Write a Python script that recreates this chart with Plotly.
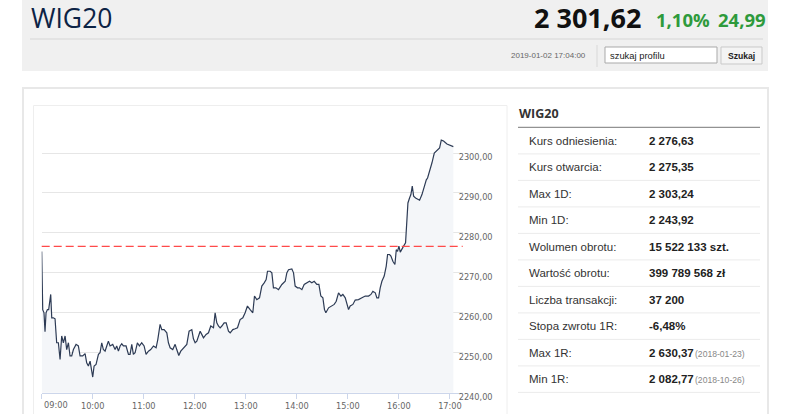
import plotly.graph_objects as go
import pandas as pd

W, H = 786, 414

# intraday WIG20, minutes after 09:00 and index level
minutes = [0, 0.4, 1.2, 2.7, 3.9, 5.1, 6.7, 8.2, 9.0, 10.6, 11.8, 13.7, 15.7, 17.6, 19.6,
           21.6, 23.5, 25.5, 27.5, 29.4, 31.4, 33.3, 35.3, 37.3, 40.4, 43.1, 45.1, 48.2,
           51.0, 52.9, 54.9, 56.9, 60.0, 61.6, 63.9, 66.7, 68.6, 70.6, 72.5, 74.5, 76.5,
           78.4, 80.4, 83.5, 86.3, 88.2, 90.2, 92.2, 94.1, 96.1, 99.2, 102.0, 103.9, 105.9,
           107.8, 109.8, 112.5, 114.9, 117.6, 120.4, 122.7, 125.5, 128.2, 131.4, 134.5,
           136.5, 139.2, 141.2, 143.9, 147.1, 149.0, 151.0, 154.1, 156.9, 158.8, 161.2,
           163.5, 166.7, 170.6, 173.3, 176.5, 178.4, 180.4, 182.4, 186.3, 188.2, 190.2,
           193.3, 196.1, 198.8, 202.0, 203.9, 205.9, 207.8, 209.8, 211.8, 214.5, 216.9,
           219.6, 221.6, 224.7, 227.5, 230.2, 233.3, 236.5, 239.2, 241.9, 245.1, 248.2,
           250.2, 252.9, 256.1, 258.8, 261.6, 263.9, 265.5, 268.6, 270.6, 272.5, 275.3,
           278.4, 282.4, 286.3, 288.2, 290.2, 294.1, 296.1, 298.0, 300.8, 303.1, 305.9,
           308.6, 311.8, 314.9, 317.6, 320.4, 323.5, 325.9, 328.2, 330.6, 332.5, 334.1,
           337.3, 341.2, 343.9, 346.3, 349.0, 351.8, 354.1, 356.9, 358.8, 360.8, 362.7,
           365.9, 368.6, 372.5, 376.5, 380.4, 384.3, 387.1, 389.4, 392.2, 394.1, 396.1,
           398.0, 400.0, 402.7, 405.1, 406.7, 409.0, 410.6, 412.9, 415.3, 416.9, 418.4,
           420.0, 421.6, 423.5, 425.5, 427.8, 429.4, 430.6, 432.5, 434.1, 435.7, 437.3,
           439.6, 442.0, 444.3, 447.1, 449.8, 452.2, 453.7, 456.1, 458.8, 461.6, 464.7,
           467.8, 469.8, 472.5, 476.5, 480.4, 484.0]
levels = [2275.35, 2264.2, 2260.8, 2260.0, 2255.25, 2260.0, 2260.8, 2260.8, 2262.5, 2264.6,
          2258.75, 2258.75, 2258.5, 2252.5, 2252.5, 2248.3, 2254.2, 2252.5, 2254.2, 2250.8,
          2252.5, 2249.2, 2249.2, 2250.8, 2252.1, 2251.7, 2249.2, 2249.2, 2249.8, 2247.5,
          2246.7, 2247.9, 2243.92, 2246.7, 2247.1, 2249.6, 2250.0, 2252.5, 2250.8, 2250.4,
          2251.7, 2252.9, 2251.7, 2252.1, 2250.8, 2251.7, 2250.4, 2251.7, 2252.25, 2251.7,
          2251.7, 2249.6, 2249.6, 2252.1, 2249.6, 2250.0, 2252.5, 2251.7, 2252.5, 2251.7,
          2249.6, 2250.4, 2250.8, 2251.7, 2251.25, 2253.3, 2257.1, 2255.8, 2255.8, 2255.0,
          2252.5, 2251.25, 2250.8, 2252.1, 2250.8, 2249.3, 2250.4, 2251.25, 2252.1, 2255.4,
          2255.8, 2253.5, 2252.5, 2252.9, 2255.4, 2254.6, 2253.75, 2254.6, 2255.0, 2256.7,
          2256.25, 2260.0, 2257.5, 2256.7, 2256.25, 2256.7, 2257.5, 2257.5, 2255.4, 2255.0,
          2255.8, 2256.0, 2256.25, 2258.3, 2258.75, 2260.0, 2261.7, 2260.8, 2260.0, 2264.2,
          2263.3, 2263.75, 2266.7, 2267.5, 2268.3, 2270.4, 2270.4, 2270.0, 2266.25, 2266.25,
          2265.8, 2267.1, 2267.9, 2270.0, 2270.8, 2271.0, 2270.0, 2266.7, 2266.25, 2266.25,
          2265.8, 2267.1, 2267.5, 2267.9, 2267.5, 2267.9, 2267.1, 2267.1, 2264.2, 2263.75,
          2260.8, 2260.0, 2261.25, 2261.7, 2262.1, 2262.9, 2265.0, 2264.2, 2264.6, 2263.75,
          2262.5, 2260.8, 2261.7, 2262.1, 2263.2, 2263.3, 2263.75, 2264.2, 2264.2, 2264.6,
          2265.4, 2265.0, 2263.75, 2263.75, 2266.25, 2267.9, 2269.2, 2271.7, 2274.6, 2274.6,
          2274.2, 2272.9, 2272.1, 2275.8, 2275.4, 2276.7, 2275.2, 2275.8, 2276.7, 2277.5,
          2282.5, 2287.5, 2288.75, 2289.6, 2291.7, 2289.2, 2288.75, 2288.5, 2288.2, 2289.6,
          2291.7, 2293.3, 2293.75, 2295.4, 2297.5, 2300.0, 2300.7, 2301.25, 2303.24, 2303.0,
          2302.25, 2301.9, 2301.62]

ref_level = 2276.63
y_ticks = [2240, 2250, 2260, 2270, 2280, 2290, 2300, 2310]
y_labels = ["2240,00", "2250,00", "2260,00", "2270,00", "2280,00", "2290,00", "2300,00", ""]
x_hours = ["09:00", "10:00", "11:00", "12:00", "13:00", "14:00", "15:00", "16:00", "17:00"]

# header texts
title = "WIG20"
last_price = "2 301,62"
change_pct = "1,10%"
change_pts = "24,99"
stamp = "2019-01-02 17:04:00"

# side table
row_labels = ["Kurs odniesienia:", "Kurs otwarcia:", "Max 1D:", "Min 1D:", "Wolumen obrotu:",
              "Wartość obrotu:", "Liczba transakcji:", "Stopa zwrotu 1R:", "Max 1R:", "Min 1R:"]
row_values = ["2 276,63", "2 275,35", "2 303,24", "2 243,92", "15 522 133 szt.",
              "399 789 568 zł", "37 200", "-6,48%", "2 630,37", "2 082,77"]
row_dates = ["", "", "", "", "", "", "", "", "(2018-01-23)", "(2018-10-26)"]


def px(x):
    return x / W


def py(y):
    return 1 - y / H


day = pd.Timestamp("2019-01-02 09:00")
times = day + pd.to_timedelta(minutes, unit="min")
tick_times = [pd.Timestamp("2019-01-02 " + h) for h in x_hours]

fig = go.Figure()
fig.add_trace(go.Scatter(
    x=times, y=levels, mode="lines",
    line=dict(color="#2d3b55", width=1.2),
    fill="tozeroy", fillcolor="#f4f6f9",
    hoverinfo="skip", showlegend=False,
))

shapes = []
annotations = []

# page boxes
shapes.append(dict(type="rect", xref="paper", yref="paper", layer="below",
                   x0=px(22), x1=px(768), y0=py(71), y1=py(0),
                   fillcolor="#f0f0f0", line_width=0))
shapes.append(dict(type="line", xref="paper", yref="paper",
                   x0=px(30), x1=px(763), y0=py(39), y1=py(39),
                   line=dict(color="#d6d6d6", width=1)))
shapes.append(dict(type="line", xref="paper", yref="paper",
                   x0=px(597), x1=px(597), y0=py(45), y1=py(67),
                   line=dict(color="#d8d8d8", width=1)))
shapes.append(dict(type="rect", xref="paper", yref="paper",
                   x0=px(605), x1=px(717), y0=py(63), y1=py(47),
                   fillcolor="white", line=dict(color="#a9a9a9", width=1)))
shapes.append(dict(type="rect", xref="paper", yref="paper",
                   x0=px(721), x1=px(762), y0=py(64), y1=py(47),
                   fillcolor="#f4f4f4", line=dict(color="#c9c9c9", width=1)))
shapes.append(dict(type="rect", xref="paper", yref="paper", layer="below",
                   x0=px(23), x1=px(768), y0=py(430), y1=py(88),
                   fillcolor="white", line=dict(color="#e8e8e8", width=2)))
shapes.append(dict(type="rect", xref="paper", yref="paper", layer="below",
                   x0=px(33.5), x1=px(507), y0=py(430), y1=py(105.5),
                   fillcolor="white", line=dict(color="#eeeeee", width=1)))

# reference level
shapes.append(dict(type="line", xref="paper", yref="y",
                   x0=px(41.7), x1=px(462.7), y0=ref_level, y1=ref_level,
                   line=dict(color="#ff4a4a", width=1.3, dash="8px,4px")))

# header
annotations.append(dict(text=title, x=px(29), y=py(18), xanchor="left", yanchor="middle",
                        font=dict(family="Open Sans", size=26.5, color="#0c2345")))
annotations.append(dict(text="<b>" + last_price + "</b>", x=px(532), y=py(18),
                        xanchor="left", yanchor="middle",
                        font=dict(family="Open Sans", size=27, color="#111111")))
annotations.append(dict(text="<b>" + change_pct + "</b>", x=px(654), y=py(19.5),
                        xanchor="left", yanchor="middle",
                        font=dict(family="Open Sans", size=18.5, color="#2e9a3c")))
annotations.append(dict(text="<b>" + change_pts + "</b>", x=px(716), y=py(19.5),
                        xanchor="left", yanchor="middle",
                        font=dict(family="Open Sans", size=18.5, color="#2e9a3c")))
annotations.append(dict(text=stamp, x=px(588), y=py(56), xanchor="right", yanchor="middle",
                        font=dict(family="Liberation Sans", size=8, color="#666666")))
annotations.append(dict(text="szukaj profilu", x=px(608), y=py(55), xanchor="left",
                        yanchor="middle",
                        font=dict(family="Liberation Sans", size=9.4, color="#222222")))
annotations.append(dict(text="<b>Szukaj</b>", x=px(741.5), y=py(55.5), xanchor="center",
                        yanchor="middle",
                        font=dict(family="Liberation Sans", size=8.6, color="#222222")))

# side table
annotations.append(dict(text="<b>" + title + "</b>", x=px(517), y=py(113), xanchor="left",
                        yanchor="middle",
                        font=dict(family="Open Sans", size=12.5, color="#333333")))
shapes.append(dict(type="line", xref="paper", yref="paper",
                   x0=px(518), x1=px(760), y0=py(127.3), y1=py(127.3),
                   line=dict(color="#777777", width=1)))
for i, (lab, val, dt) in enumerate(zip(row_labels, row_values, row_dates)):
    yc = 140.7 + 26.5 * i
    annotations.append(dict(text=lab, x=px(526.5), y=py(yc), xanchor="left", yanchor="middle",
                            font=dict(family="Liberation Sans", size=11.5, color="#333333")))
    annotations.append(dict(text="<b>" + val + "</b>", x=px(646.5), y=py(yc), xanchor="left",
                            yanchor="middle",
                            font=dict(family="Liberation Sans", size=11.5, color="#222222")))
    if dt:
        annotations.append(dict(text=dt, x=px(693), y=py(yc + 1), xanchor="left",
                                yanchor="middle",
                                font=dict(family="Liberation Sans", size=8.6, color="#888888")))
    shapes.append(dict(type="line", xref="paper", yref="paper",
                       x0=px(518), x1=px(760), y0=py(yc + 13.2), y1=py(yc + 13.2),
                       line=dict(color="#ebebeb", width=1)))

# first hour label sits right of its tick
annotations.append(dict(text=x_hours[0], x=tick_times[0], xref="x", yref="paper",
                        y=py(392.7), xanchor="left", yanchor="top", yshift=-5,
                        font=dict(family="DejaVu Sans", size=8.2, color="#666666")))

for a in annotations:
    a.setdefault("xref", "paper")
    a.setdefault("yref", "paper")
    a["showarrow"] = False

fig.update_layout(
    width=W, height=H,
    margin=dict(l=0, r=0, t=0, b=0),
    paper_bgcolor="white",
    plot_bgcolor="rgba(0,0,0,0)",
    shapes=shapes,
    annotations=annotations,
    xaxis=dict(
        type="date",
        domain=[px(41.7), px(462.7)],
        range=[day, pd.Timestamp("2019-01-02 17:15")],
        tickvals=tick_times,
        ticktext=[""] + x_hours[1:],
        showgrid=False,
        showline=True, linecolor="#ccd6eb", linewidth=1,
        ticks="outside", ticklen=5, tickcolor="#ccd6eb",
        tickfont=dict(family="DejaVu Sans", size=8.2, color="#666666"),
        automargin=False, fixedrange=True,
    ),
    yaxis=dict(
        domain=[1 - 392.7 / H, 1 - 112.7 / H],
        range=[2240, 2310.1],
        side="right",
        tickvals=y_ticks,
        ticktext=y_labels,
        showgrid=True, gridcolor="#e6e6e6", gridwidth=1,
        zeroline=False, showline=False,
        ticks="",
        ticklabelshift=4,
        ticklabelstandoff=-5,
        tickfont=dict(family="DejaVu Sans", size=8.2, color="#666666"),
        automargin=False, fixedrange=True,
    ),
)

# page body margin would push the figure 8px off the window
fig.write_html("out.html", config={"displayModeBar": False},
               post_script="document.body.style.margin='0';")
